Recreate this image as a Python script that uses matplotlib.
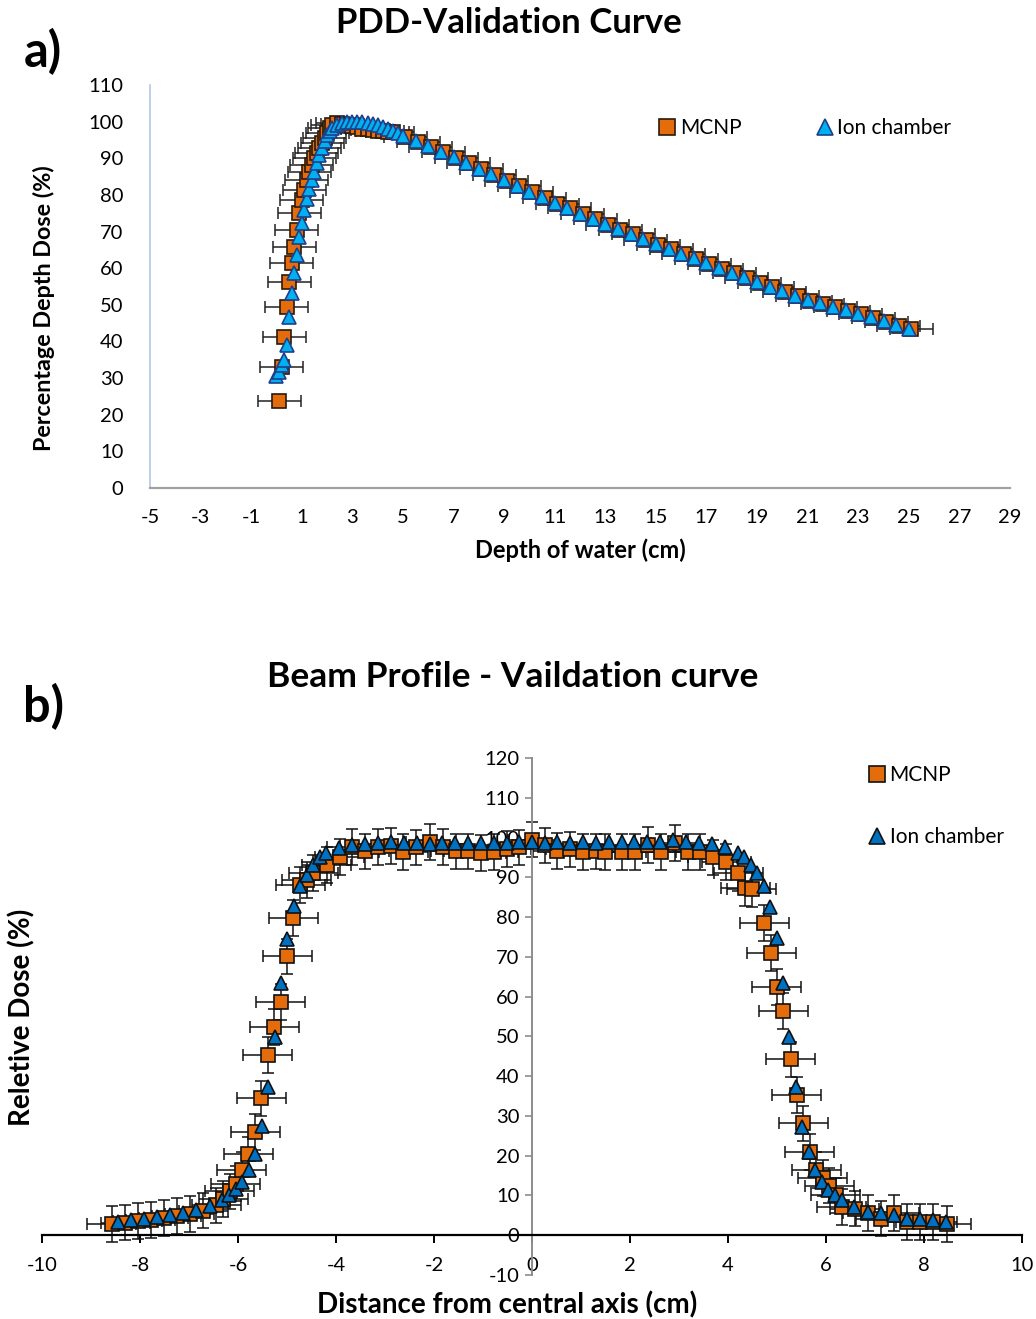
import numpy as np
import matplotlib
matplotlib.use("Agg")
import matplotlib.pyplot as plt
from matplotlib.lines import Line2D

plt.rcParams['font.family'] = ['Lato', 'DejaVu Sans']
plt.rcParams['axes.unicode_minus'] = False

# ---- a) PDD data ----
ion_depth = [0.0, 0.1, 0.2, 0.3, 0.4, 0.5, 0.6, 0.7, 0.8, 0.9, 1.0, 1.1, 1.2, 1.3, 1.4,
             1.5, 1.6, 1.7, 1.8, 1.9, 2.0, 2.1, 2.2, 2.4, 2.6, 2.8, 3.0, 3.2, 3.4, 3.6,
             3.8, 4.0, 4.2, 4.4, 4.6, 4.8, 5.0,
             5.5, 6.0, 6.5, 7.0, 7.5, 8.0, 8.5, 9.0, 9.5, 10.0, 10.5, 11.0, 11.5, 12.0,
             12.5, 13.0, 13.5, 14.0, 14.5, 15.0, 15.5, 16.0, 16.5, 17.0, 17.5, 18.0,
             18.5, 19.0, 19.5, 20.0, 20.5, 21.0, 21.5, 22.0, 22.5, 23.0, 23.5, 24.0,
             24.5, 25.0]
ion_pdd = [30.5, 31.7, 33.6, 35.0, 39.0, 46.8, 53.1, 58.6, 63.6, 68.6, 72.2, 75.9, 78.8,
           81.5, 84.0, 86.3, 88.6, 90.9, 92.9, 94.8, 96.3, 97.5, 98.3, 99.2, 99.7, 99.9,
           100.0, 100.0, 99.9, 99.7, 99.4, 99.0, 98.6, 98.1, 97.5, 96.9, 96.2,
           94.8, 93.3, 91.8, 90.3, 88.7, 87.2, 85.6, 84.0, 82.5, 80.9, 79.4, 77.8, 76.4,
           74.9, 73.5, 72.0, 70.6, 69.3, 67.9, 66.6, 65.3, 64.0, 62.7, 61.4, 60.1, 58.8,
           57.5, 56.2, 55.0, 53.7, 52.5, 51.3, 50.4, 49.4, 48.5, 47.6, 46.6, 45.5, 44.5,
           43.4]

mcnp_depth = [0.1, 0.2, 0.3, 0.4, 0.5, 0.6, 0.7, 0.8, 0.9, 1.0, 1.1, 1.2, 1.3, 1.4, 1.5,
              1.6, 1.7, 1.8, 1.9, 2.0, 2.1, 2.2, 2.4, 2.6, 2.8, 3.0, 3.2, 3.4, 3.6, 3.8,
              4.0, 4.2, 4.4,
              4.6, 5.1, 5.6, 6.1, 6.6, 7.1, 7.6, 8.1, 8.6, 9.1, 9.6, 10.1, 10.6, 11.1,
              11.6, 12.1, 12.6, 13.1, 13.6, 14.1, 14.6, 15.1, 15.6, 16.1, 16.6, 17.1,
              17.6, 18.1, 18.6, 19.1, 19.6, 20.1, 20.6, 21.1, 21.6, 22.1, 22.6, 23.1,
              23.6, 24.1, 24.6, 25.1]
mcnp_pdd = [23.8, 33.1, 41.1, 49.3, 56.3, 61.5, 65.9, 70.4, 75.0, 78.6, 81.3, 84.1, 86.3,
            88.2, 90.0, 91.4, 92.7, 94.1, 95.4, 96.8, 98.2, 99.1, 99.5, 99.3, 99.0, 98.7,
            98.4, 98.1, 97.9, 97.7, 97.5, 97.4, 97.3,
            97.2, 95.8, 94.5, 93.0, 91.6, 90.0, 88.6, 87.0, 85.4, 83.8, 82.3, 80.7, 79.2,
            77.6, 76.3, 74.8, 73.3, 71.9, 70.5, 69.2, 67.7, 66.4, 65.1, 63.8, 62.5, 61.2,
            59.9, 58.6, 57.3, 56.0, 54.8, 53.5, 52.3, 51.0, 50.2, 49.3, 48.4, 47.4, 46.4,
            45.3, 44.3, 43.3]
mcnp_depth_err = 0.85

# ---- b) beam profile data ----
ion_pos = [-8.45, -8.18, -7.92, -7.65, -7.38, -7.12, -6.85, -6.58, -6.32, -6.18, -6.05,
           -5.91, -5.78, -5.65, -5.52, -5.38, -5.25, -5.12, -4.99, -4.86, -4.73, -4.60,
           -4.47, -4.33, -4.20, -3.93, -3.67, -3.40, -3.14, -2.88, -2.62, -2.35, -2.09,
           -1.83, -1.57, -1.31, -1.05, -0.78, -0.52, -0.26, 0.0, 0.26, 0.52, 0.78, 1.05,
           1.31, 1.57, 1.83, 2.09, 2.35, 2.62, 2.88, 3.14, 3.40, 3.67, 3.93, 4.20, 4.33,
           4.47, 4.60, 4.73, 4.86, 4.99, 5.12, 5.25, 5.38, 5.52, 5.65, 5.78, 5.91, 6.05,
           6.18, 6.32, 6.58, 6.85, 7.12, 7.38, 7.65, 7.92, 8.18, 8.45]
ion_dose = [3.4, 3.8, 4.0, 4.6, 5.0, 5.6, 6.3, 7.3, 8.8, 10.1, 11.5, 13.4, 16.5, 20.5, 27.4,
            37.3, 49.9, 63.3, 74.6, 82.8, 87.8, 90.6, 93.1, 95.2, 96.0, 97.3, 98.1, 98.5,
            98.7, 98.9, 98.7, 98.7, 98.5, 98.7, 98.7, 98.7, 98.6, 98.7, 98.6, 98.8, 98.9,
            98.7, 98.8, 98.6, 98.9, 98.7, 98.9, 98.9, 98.9, 98.9, 98.9, 99.4, 98.9, 98.7,
            98.4, 97.5, 96.0, 95.0, 93.1, 91.0, 87.7, 82.5, 74.7, 63.4, 49.9, 37.3, 27.2,
            21.0, 16.4, 13.4, 11.3, 10.1, 8.8, 7.1, 5.9, 5.5, 5.0, 4.2, 4.2, 3.8, 3.4]

mcnp_pos = [-8.58, -8.30, -8.05, -7.78, -7.52, -7.25, -6.98, -6.71, -6.44, -6.30, -6.17,
            -6.05, -5.92, -5.79, -5.65, -5.53, -5.39, -5.26, -5.13, -4.99, -4.87, -4.73,
            -4.60, -4.46, -4.19, -3.92, -3.68, -3.41, -3.15, -2.88, -2.63, -2.36, -2.08,
            -1.82, -1.56, -1.30, -1.04, -0.78, -0.52, -0.26, 0.0, 0.26, 0.52, 0.78, 1.04,
            1.30, 1.49, 1.83, 2.10, 2.37, 2.64, 2.92, 3.18, 3.43, 3.69, 3.96, 4.21, 4.35,
            4.48, 4.74, 4.88, 4.99, 5.13, 5.28, 5.40, 5.54, 5.67, 5.80, 5.93, 6.07, 6.20,
            6.32, 6.59, 6.85, 7.12, 7.39, 7.65, 7.92, 8.18, 8.46]
mcnp_dose = [2.9, 3.2, 3.5, 3.9, 4.3, 4.9, 5.4, 6.2, 7.5, 9.2, 11.0, 13.0, 16.4, 20.3, 26.0,
             34.4, 45.3, 52.4, 58.7, 70.1, 79.7, 88.1, 89.3, 91.0, 93.1, 95.2, 97.7, 96.5,
             97.7, 97.9, 96.4, 97.5, 98.9, 97.6, 96.5, 96.5, 96.2, 96.3, 97.2, 97.5, 99.5,
             98.0, 96.6, 97.0, 96.4, 96.5, 96.4, 96.4, 96.4, 98.1, 96.4, 98.6, 96.4, 96.4,
             95.0, 93.9, 91.1, 87.2, 87.0, 78.6, 70.9, 62.5, 56.4, 44.2, 35.2, 28.1, 21.0,
             16.4, 14.3, 12.5, 10.0, 7.1, 6.7, 5.5, 4.2, 5.5, 3.4, 3.4, 3.4, 2.9]
mcnp_pos_err = 0.5
mcnp_dose_err = 4.5

orange = '#E46C0A'
light_blue = '#00B0F0'
navy = '#1F3F8A'
blue = '#0070C0'

W, H = 1036, 1319
fig = plt.figure(figsize=(W / 100, H / 100), dpi=100)


def fx(px):
    return px / W


def fy(py):
    return 1 - py / H


# ---------------- a) ----------------
ax1 = fig.add_axes([fx(150), fy(488), fx(1010) - fx(150), fy(85) - fy(488)])
ax1.errorbar(mcnp_depth, mcnp_pdd, xerr=mcnp_depth_err, fmt='none', ecolor='#222222',
             elinewidth=1.1, capsize=4, capthick=1.1, zorder=2)
ax1.plot(mcnp_depth, mcnp_pdd, 's', ms=10.5, mfc=orange, mec='#2a1a0a', mew=1.2,
         ls='none', zorder=3)
ax1.plot(ion_depth, ion_pdd, '^', ms=10.5, mfc=light_blue, mec=navy, mew=1.2,
         ls='none', zorder=4)
ax1.set_xlim(-5, 29)
ax1.set_ylim(0, 110)
ax1.set_xticks(range(-5, 30, 2))
ax1.set_yticks(range(0, 111, 10))
ax1.tick_params(length=0, labelsize=14.5, pad=15)
ax1.tick_params(axis='y', pad=19)
for s in ['top', 'right']:
    ax1.spines[s].set_visible(False)
ax1.spines['left'].set_color('#B4C7E7')
ax1.spines['left'].set_linewidth(1.2)
ax1.spines['bottom'].set_color('#A0A0A0')
ax1.spines['bottom'].set_linewidth(1.6)
ax1.patch.set_alpha(0)

fig.text(fx(509), fy(23), 'PDD-Validation Curve', fontsize=25, fontweight='bold',
         ha='center', va='center')
fig.text(fx(43), fy(52), 'a)', fontsize=35, fontweight='bold', ha='center', va='center')
fig.text(fx(580), fy(550), 'Depth of water (cm)', fontsize=17, fontweight='bold',
         ha='center', va='center')
fig.text(fx(44), fy(308), 'Percentage Depth Dose (%)', fontsize=16.8, fontweight='bold',
         ha='center', va='center', rotation=90)

h1 = [Line2D([], [], marker='s', ls='none', ms=11, mfc=orange, mec='#2a1a0a', mew=1.2),
      Line2D([], [], marker='^', ls='none', ms=12, mfc=light_blue, mec=navy, mew=1.2)]
fig.legend(h1, ['MCNP', 'Ion chamber'], loc='center', ncol=2, frameon=False,
           bbox_to_anchor=(fx(805), fy(128)), fontsize=15, handlelength=0.8,
           handletextpad=0.2, columnspacing=3.6)

# ---------------- b) ----------------
ax2 = fig.add_axes([fx(42), fy(1275), fx(1022) - fx(42), fy(758) - fy(1275)])
ax2.errorbar(mcnp_pos, mcnp_dose, xerr=mcnp_pos_err, yerr=mcnp_dose_err, fmt='none',
             ecolor='#111111', elinewidth=1.1, capsize=4, capthick=1.1, zorder=2)
ax2.plot(mcnp_pos, mcnp_dose, 's', ms=10.5, mfc=orange, mec='#111111', mew=1.2,
         ls='none', zorder=3)
ax2.plot(ion_pos, ion_dose, '^', ms=10.5, mfc=blue, mec='#111111', mew=1.2,
         ls='none', zorder=4)
ax2.set_xlim(-10, 10)
ax2.set_ylim(-10, 120)
ax2.set_xticks(range(-10, 11, 2))
ax2.set_yticks(range(-10, 121, 10))
ax2.spines['left'].set_position(('data', 0))
ax2.spines['bottom'].set_position(('data', 0))
for s in ['top', 'right']:
    ax2.spines[s].set_visible(False)
ax2.spines['left'].set_color('#8C8C8C')
ax2.spines['left'].set_linewidth(1.4)
ax2.spines['bottom'].set_color('black')
ax2.spines['bottom'].set_linewidth(1.6)
ax2.tick_params(axis='x', direction='out', length=6, width=1.4, color='black',
                labelsize=14.5, pad=10)
ax2.tick_params(axis='y', direction='out', length=5, width=1.2, color='#8C8C8C',
                labelsize=14.5, pad=4)
ax2.patch.set_alpha(0)

fig.text(fx(513), fy(677), 'Beam Profile - Vaildation curve', fontsize=25.5,
         fontweight='bold', ha='center', va='center')
fig.text(fx(43), fy(707), 'b)', fontsize=35, fontweight='bold', ha='center', va='center')
fig.text(fx(507), fy(1305), 'Distance from central axis (cm)', fontsize=20,
         fontweight='bold', ha='center', va='center')
fig.text(fx(22), fy(1017), 'Reletive Dose (%)', fontsize=20, fontweight='bold',
         ha='center', va='center', rotation=90)

h2 = [Line2D([], [], marker='s', ls='none', ms=11, mfc=orange, mec='#111111', mew=1.2),
      Line2D([], [], marker='^', ls='none', ms=12, mfc=blue, mec='#111111', mew=1.2)]
fig.legend(h2, ['MCNP', 'Ion chamber'], loc='center left', frameon=False,
           bbox_to_anchor=(fx(850), fy(806)), fontsize=15, handlelength=0.8,
           handletextpad=0.2, labelspacing=2.0)

fig.savefig('out.png', dpi=100)
